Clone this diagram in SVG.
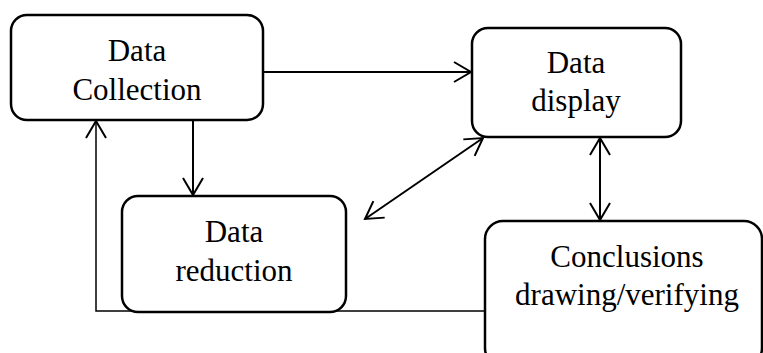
<svg xmlns="http://www.w3.org/2000/svg" width="763" height="353" viewBox="0 0 763 353">
<style>
.box{fill:#fff;stroke:#000;stroke-width:2.5}
.t{font-family:"Liberation Serif","Times New Roman",serif;font-size:31px;fill:#000;text-anchor:middle}
.c{fill:none;stroke:#000;stroke-width:2}
.thin{fill:none;stroke:#000;stroke-width:1.5}
</style>
<defs>
<marker id="ah" viewBox="-19 -12 21 24" markerWidth="21" markerHeight="24" refX="0" refY="0" markerUnits="userSpaceOnUse" orient="auto-start-reverse">
<path d="M-17,-10 L0,0 L-17,10" fill="none" stroke="#000" stroke-width="2"/>
</marker>
</defs>
<g id="connectors">
<line class="c" x1="263" y1="72" x2="471" y2="72" marker-end="url(#ah)"/>
<line class="c" x1="193" y1="120" x2="193" y2="195" marker-end="url(#ah)"/>
<line class="c" x1="483" y1="138" x2="365" y2="219" marker-start="url(#ah)" marker-end="url(#ah)"/>
<line class="c" x1="600" y1="138" x2="600" y2="220" marker-start="url(#ah)" marker-end="url(#ah)"/>
<polyline class="thin" points="485,311 96,311 96,121" marker-end="url(#ah)"/>
</g>
<g id="data-collection">
<rect class="box" x="11" y="15" width="252" height="105" rx="16"/>
<text class="t" x="137" y="61">Data</text>
<text class="t" x="137" y="100">Collection</text>
</g>
<g id="data-display">
<rect class="box" x="472" y="28" width="209" height="109" rx="16"/>
<text class="t" x="576" y="73">Data</text>
<text class="t" x="576" y="111">display</text>
</g>
<g id="data-reduction">
<rect class="box" x="122" y="196" width="224" height="116" rx="16"/>
<text class="t" x="234" y="242">Data</text>
<text class="t" x="234" y="281">reduction</text>
</g>
<g id="conclusions">
<rect class="box" x="485" y="221" width="277" height="145" rx="18"/>
<text class="t" x="627" y="267">Conclusions</text>
<text class="t" x="627" y="305">drawing/verifying</text>
</g>
</svg>
